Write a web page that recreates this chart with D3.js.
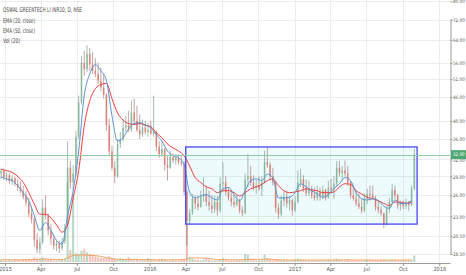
<!DOCTYPE html>
<html lang="en">
<head>
<meta charset="utf-8">
<title>OSWAL GREENTECH</title>
<script src="https://cdn.jsdelivr.net/npm/d3@7"></script>
<style>
  body { margin: 0; background: #fff; }
  text { font-family: "DejaVu Sans Condensed", "Liberation Sans Narrow", sans-serif; }
</style>
</head>
<body>
<div id="chart"></div>
<script>
// weekly candles, first week starting 22 Dec 2014
var weekStart = new Date(2014, 11, 22);

var opens = [
  29.5,29.9,28.9,29.2,28.2,28.7,27.8,27.2,26.6,25.8,
  24.9,23.4,22.6,20.1,19.0,19.8,24.2,23.1,21.2,20.2,
  19.4,19.7,19.1,19.9,22.0,30.5,28.0,29.5,36.5,44.5,
  56.0,54.0,59.0,55.5,53.5,52.5,50.5,48.5,46.5,39.0,
  33.5,30.5,29.0,35.0,36.0,38.5,39.0,38.0,42.0,40.0,
  38.0,37.0,38.5,37.5,38.0,37.2,37.5,34.5,33.0,34.0,
  31.0,30.5,32.5,31.8,32.3,31.5,31.2,26.5,22.4,23.5,
  25.5,24.8,24.3,25.8,26.2,25.0,24.5,24.0,25.0,23.8,
  27.8,28.0,26.5,25.6,25.0,24.6,25.3,23.8,23.5,28.5,
  29.0,28.0,27.2,27.5,27.0,28.0,31.5,31.0,29.0,28.0,
  24.2,23.3,25.2,25.8,24.8,25.3,23.8,25.0,28.0,28.5,
  27.0,26.3,27.0,26.0,25.6,26.5,25.8,26.8,25.6,27.2,
  26.8,27.8,30.5,29.6,30.0,29.5,28.0,26.0,25.5,24.8,
  24.3,23.8,25.5,26.2,26.0,25.5,24.3,23.9,23.4,22.0,
  24.0,25.0,26.8,26.0,24.5,24.8,24.4,25.0,24.6,27.0
];
var highs = [
  30.5,30.4,29.8,29.5,29.2,28.9,28.6,28.2,27.5,26.7,
  25.6,24.4,22.9,20.9,20.4,25.4,26.0,23.4,22.0,20.6,
  20.1,20.0,20.3,22.0,35.5,31.7,31.0,37.8,46.3,58.4,
  60.1,62.0,61.0,59.5,57.5,56.0,54.5,52.5,47.0,40.5,
  34.6,31.7,36.0,37.5,40.5,41.2,42.4,45.0,45.5,43.7,
  41.5,40.3,40.0,39.5,40.0,46.3,37.8,35.6,35.5,34.2,
  32.7,33.6,33.2,33.0,33.0,32.7,31.7,26.8,24.0,26.2,
  26.0,25.9,26.7,28.8,27.5,26.7,26.0,25.9,25.9,28.8,
  31.5,29.0,27.2,26.7,26.2,26.0,25.5,24.4,29.5,33.0,
  30.8,29.2,28.5,29.0,29.0,33.6,34.3,31.5,30.5,28.2,
  24.8,25.9,26.7,26.7,25.9,25.5,25.9,30.0,30.3,29.2,
  28.5,28.3,27.5,27.2,27.5,27.2,27.5,27.0,28.3,28.6,
  29.1,31.7,31.7,30.8,31.8,30.8,28.3,27.5,26.7,26.2,
  25.5,26.3,27.0,27.5,27.5,25.9,25.2,24.4,23.5,24.4,
  25.6,27.8,27.5,26.2,25.2,25.2,25.5,25.2,27.5,34.0
];
var lows = [
  28.6,28.4,28.2,27.8,27.6,27.4,26.7,26.3,25.4,24.4,
  22.9,22.1,19.3,18.6,18.5,19.6,22.6,20.6,19.5,19.0,
  18.8,18.6,18.9,19.6,21.8,27.0,26.7,29.0,36.0,44.0,
  52.0,53.0,53.5,52.5,51.5,49.5,47.5,45.5,37.8,32.7,
  30.0,27.9,28.8,34.2,35.5,37.5,37.5,37.5,39.0,37.5,
  36.0,36.5,37.0,36.5,37.0,36.5,33.6,32.3,32.5,30.0,
  28.3,30.3,31.3,31.0,31.1,30.8,26.0,19.4,22.0,23.2,
  24.0,23.8,24.2,25.0,24.4,23.8,23.4,23.5,23.1,23.5,
  26.5,26.0,25.2,24.4,24.2,24.4,23.4,23.0,23.3,27.3,
  27.5,26.7,26.2,26.7,25.9,27.8,30.5,28.3,27.5,23.5,
  22.7,23.0,24.4,24.2,23.8,23.1,23.6,24.8,27.3,26.5,
  25.9,25.9,25.5,25.2,25.2,25.2,25.4,25.2,25.5,26.2,
  25.5,27.3,29.0,28.3,29.0,27.5,25.5,25.2,24.4,24.0,
  23.4,23.6,24.7,25.2,25.3,23.8,23.4,23.1,21.5,21.8,
  23.5,24.8,25.5,24.0,23.8,24.0,24.0,23.8,24.4,26.8
];
var closes = [
  29.9,28.9,29.2,28.2,28.7,27.8,27.2,26.6,25.8,24.9,
  23.4,22.6,20.1,19.0,19.8,24.2,23.1,21.2,20.2,19.4,
  19.7,19.1,19.9,21.5,30.5,28.0,29.5,36.5,44.5,56.0,
  54.0,59.0,55.5,53.5,52.5,50.5,48.5,46.5,39.0,33.5,
  30.5,29.0,35.0,36.0,38.5,39.0,38.0,42.0,40.0,38.0,
  37.0,38.5,37.5,38.0,37.2,37.5,34.5,33.0,34.0,31.0,
  30.5,32.5,31.8,32.3,31.5,31.2,26.5,22.4,23.5,25.5,
  24.8,24.3,25.8,26.2,25.0,24.5,24.0,25.0,23.8,27.8,
  28.0,26.5,25.6,25.0,24.6,25.3,23.8,23.5,28.5,29.0,
  28.0,27.2,27.5,27.0,28.0,31.5,31.0,29.0,28.0,24.2,
  23.3,25.2,25.8,24.8,25.3,23.8,25.0,28.0,28.5,27.0,
  26.3,27.0,26.0,25.6,26.5,25.8,26.8,25.6,27.2,26.8,
  27.8,30.5,29.6,30.0,29.5,28.0,26.0,25.5,24.8,24.3,
  23.8,25.5,26.2,26.0,25.5,24.3,23.9,23.4,22.0,24.0,
  25.0,26.8,26.0,24.5,24.8,24.4,25.0,24.6,27.0,32.9
];
var volumes = [
  3,2,2,3,2,3,3,2,3,3,
  4,3,5,4,4,6,4,3,3,2,
  2,2,3,4,100,15,85,11,10,14,
  16,12,10,9,7,6,5,5,6,7,
  5,4,3,5,4,3,6,4,3,3,
  2,3,3,5,3,3,2,3,4,3,
  2,2,3,2,2,3,4,48,6,4,
  3,3,2,3,4,3,2,2,2,3,
  5,3,2,2,2,2,3,2,10,9,
  4,3,2,2,3,9,5,3,2,3,
  3,2,2,2,2,2,3,4,3,2,
  2,2,2,2,2,2,2,2,3,2,
  3,4,3,2,2,3,2,2,2,2,
  2,2,3,2,2,2,2,2,3,2,
  2,3,2,2,2,2,2,2,3,8
];

// indicators sampled every second week
var ema20 = [
  28.9,28.6,28.3,27.5,26.4,25.2,23.1,21.2,22.2,21.2,20.0,19.6,
  23.1,26.7,33.6,46.3,52.6,55.4,53.5,50.5,41.2,35.6,36.3,38.2,
  39.4,39.6,39.1,38.4,36.9,35.6,33.6,32.7,32.3,31.1,26.4,25.6,
  25.9,26.1,25.6,25.3,27.0,27.2,26.1,25.2,26.7,28.3,28.6,28.3,
  29.4,28.8,25.6,25.6,25.7,26.4,27.8,27.3,26.7,26.2,25.7,26.1,
  27.0,27.8,28.8,28.3,26.4,25.5,25.3,25.5,25.2,24.4,24.1,25.3,
  24.8,24.8,25.2
];
var ema50 = [
  30.2,30.0,29.7,29.0,28.0,26.4,24.7,23.3,23.3,22.8,21.9,21.0,
  21.9,25.6,30.0,38.9,45.0,48.2,49.4,49.7,45.5,41.9,40.2,39.4,
  39.2,39.4,39.0,38.7,37.3,36.3,35.0,34.2,33.6,32.7,30.8,28.8,
  28.0,27.3,27.0,26.4,26.7,26.7,26.4,25.9,26.4,27.0,27.3,27.7,
  28.3,28.6,27.5,26.7,26.4,26.5,26.7,27.0,26.8,26.7,26.4,26.4,
  26.5,27.3,27.8,27.7,26.7,26.2,25.7,25.5,25.2,24.8,24.5,25.0,
  25.0,24.8,25.0
];
var volMA = [
  2.8,2.8,2.7,2.7,2.8,2.9,3.2,3.5,3.6,3.4,3.2,3.0,
  5.5,8.0,8.8,8.6,8.4,8.0,7.0,5.5,
  4.2,3.2,3.0,3.1,3.2,3.0,2.9,2.8,2.8,2.8,2.7,2.7,2.8,
  2.9,5.0,5.2,5.0,4.8,4.0,3.0,
  2.9,2.8,2.7,2.6,3.0,3.4,3.3,3.5,3.6,3.2,
  2.8,2.6,2.5,2.6,2.6,2.5,2.5,2.4,2.5,2.6,2.6,2.6,2.7,2.6,2.5,
  2.5,2.5,2.5,2.4,2.4,2.5,2.5,2.5,2.5,2.6
];

var priceTicks = [18.5, 20.5, 23, 26, 29, 32, 36, 40, 46, 51, 56, 64, 72, 80];
var timeTicks = ["2015-01-01","2015-04-01","2015-07-01","2015-10-01","2016-01-01","2016-04-01",
  "2016-07-01","2016-10-01","2017-01-01","2017-04-01","2017-07-01","2017-10-01","2018-01-01"];
var timeLabels = ["2015","Apr","Jul","Oct","2016","Apr","Jul","Oct","2017","Apr","Jul","Oct","2018"];

var lastPrice = 32.90;
var boxDates = ["2016-04-01", "2017-11-06"];
var boxPrices = [34.4, 22.0];
var legend = ["OSWAL GREENTECH LI INR10, D, NSE", "EMA (20, close)", "EMA (50, close)", "Vol (20)"];

var W = 466, H = 275, right = 450.5, bottom = 263;
var parse = d3.utcParse("%Y-%m-%d");

var x = d3.scaleTime().domain([new Date(2015, 0, 1), new Date(2018, 0, 1)]).range([5, 439.3]);
var y = d3.scaleLog().domain([18.5, 72]).range([254, 19.5]);
var vy = d3.scaleLinear().domain([0, 100]).range([262, 182]);

var dates = closes.map(function(d, i) { return d3.timeDay.offset(weekStart, 7 * i); });
var dates2 = ema20.map(function(d, i) { return d3.timeDay.offset(weekStart, 14 * i); });

var svg = d3.select("#chart").append("svg")
  .attr("width", W).attr("height", H)
  .style("display", "block");

svg.append("defs").append("clipPath").attr("id", "plot")
  .append("rect").attr("x", 0).attr("y", 0).attr("width", right).attr("height", bottom);

// grid
var grid = svg.append("g").attr("stroke", "#ececec").attr("stroke-width", 1);
timeTicks.forEach(function(t) {
  var px = Math.round(x(parse(t))) + 0.5;
  grid.append("line").attr("x1", px).attr("x2", px).attr("y1", 0).attr("y2", bottom);
});
priceTicks.forEach(function(p) {
  var py = Math.round(y(p)) + 0.5;
  grid.append("line").attr("x1", 0).attr("x2", right).attr("y1", py).attr("y2", py);
});

var plot = svg.append("g").attr("clip-path", "url(#plot)");

// rectangle drawing (fill)
var bx0 = x(parse(boxDates[0])), bx1 = x(parse(boxDates[1]));
var by0 = y(boxPrices[0]), by1 = y(boxPrices[1]);
plot.append("rect")
  .attr("x", bx0).attr("y", by0).attr("width", bx1 - bx0).attr("height", by1 - by0)
  .attr("fill", "rgba(0,200,230,0.07)");

// volume
plot.selectAll(".vol").data(volumes).enter().append("rect")
  .attr("x", function(d, i) { return x(dates[i]) - 1; })
  .attr("width", 2)
  .attr("y", function(d) { return vy(d); })
  .attr("height", function(d) { return vy(0) - vy(d); })
  .attr("fill", function(d, i) { return closes[i] >= opens[i] ? "rgba(107,180,131,0.5)" : "rgba(225,110,100,0.45)"; });

plot.append("path")
  .datum(volMA)
  .attr("fill", "none").attr("stroke", "#f5a461").attr("stroke-width", 1)
  .attr("d", d3.line().curve(d3.curveMonotoneX)
    .x(function(d, i) { return x(dates2[i]); })
    .y(function(d) { return vy(d); }));

// candles
var candles = plot.selectAll(".c").data(closes).enter().append("g");
candles.append("line")
  .attr("x1", function(d, i) { return x(dates[i]); })
  .attr("x2", function(d, i) { return x(dates[i]); })
  .attr("y1", function(d, i) { return y(highs[i]); })
  .attr("y2", function(d, i) { return y(lows[i]); })
  .attr("stroke", function(d, i) { return closes[i] >= opens[i] ? "#6d8f7b" : "#9a6a62"; })
  .attr("stroke-width", 0.6);
candles.append("rect")
  .attr("x", function(d, i) { return x(dates[i]) - 0.8; })
  .attr("width", 1.6)
  .attr("y", function(d, i) { return y(Math.max(opens[i], closes[i])); })
  .attr("height", function(d, i) { return Math.max(0.6, Math.abs(y(opens[i]) - y(closes[i]))); })
  .attr("fill", function(d, i) { return closes[i] >= opens[i] ? "#7fb394" : "#dc7466"; })
  .attr("opacity", 0.75);

// EMAs
var emaLine = d3.line().curve(d3.curveMonotoneX)
  .x(function(d, i) { return x(dates2[i]); })
  .y(function(d) { return y(d); });
plot.append("path").datum(ema50).attr("fill", "none").attr("stroke", "#f03c3c").attr("stroke-width", 1).attr("d", emaLine);
plot.append("path").datum(ema20).attr("fill", "none").attr("stroke", "#5a93d6").attr("stroke-width", 1).attr("d", emaLine);

// rectangle border
plot.append("rect")
  .attr("x", bx0).attr("y", by0).attr("width", bx1 - bx0).attr("height", by1 - by0)
  .attr("fill", "none").attr("stroke", "#4747f2").attr("stroke-width", 1.3);

// last price line
var ly = Math.round(y(lastPrice)) + 0.5;
plot.append("line").attr("x1", 0).attr("x2", right).attr("y1", ly).attr("y2", ly)
  .attr("stroke", "#8fcca5").attr("stroke-width", 1);

// price axis
var yAxis = d3.axisRight(y).tickValues(priceTicks).tickFormat(d3.format(".2f")).tickSize(2).tickPadding(0.5);
var ya = svg.append("g").attr("transform", "translate(" + right + ",0)").call(yAxis);
ya.select(".domain").attr("stroke", "#9a9a9a");
ya.selectAll(".tick line").attr("stroke", "#9a9a9a");
ya.selectAll(".tick text").attr("fill", "#555").style("font-size", "4.9px")
  .attr("textLength", 11.8).attr("lengthAdjust", "spacingAndGlyphs");

// time axis
var xAxis = d3.axisBottom(x).tickValues(timeTicks.map(parse)).tickFormat(function(d, i) { return timeLabels[i]; }).tickSize(3).tickPadding(1.5);
var xa = svg.append("g").attr("transform", "translate(0," + bottom + ")").call(xAxis);
xa.select(".domain").attr("stroke", "#9a9a9a").attr("d", "M0,0.5H" + right);
xa.selectAll(".tick line").attr("stroke", "#9a9a9a");
xa.selectAll(".tick text").attr("fill", "#555").style("font-size", "5.6px");

// last price label
svg.append("rect").attr("x", right + 0.5).attr("y", y(lastPrice) - 4.5).attr("width", 15).attr("height", 9)
  .attr("fill", "#4ea873");
svg.append("text").attr("x", right + 2.5).attr("y", y(lastPrice) + 1.8)
  .attr("fill", "#fff").style("font-size", "4.9px")
  .attr("textLength", 11.5).attr("lengthAdjust", "spacingAndGlyphs")
  .text(d3.format(".2f")(lastPrice));

// legend
var legY = [12, 23, 32.5, 42.5];
var legW = [79, 32, 32, 17];
legend.forEach(function(t, i) {
  svg.append("text").attr("x", 3).attr("y", legY[i])
    .attr("fill", "#4a4a4a").style("font-size", "6.5px")
    .attr("textLength", legW[i]).attr("lengthAdjust", "spacingAndGlyphs")
    .text(t);
});
</script>
</body>
</html>
